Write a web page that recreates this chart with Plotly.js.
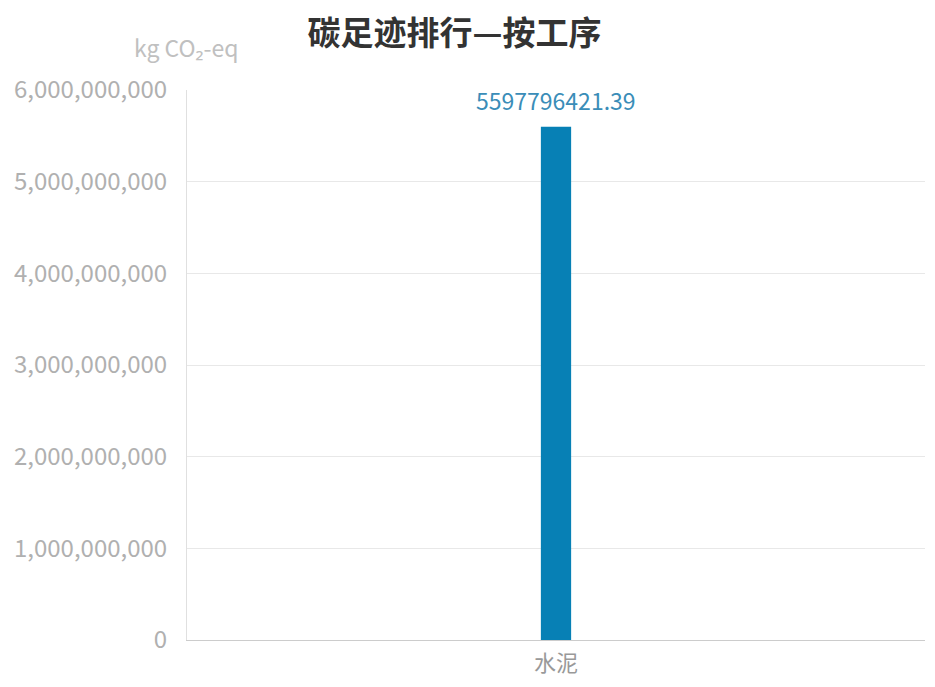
<!DOCTYPE html>
<html><head><meta charset="utf-8">
<script src="https://cdn.plot.ly/plotly-3.0.1.min.js"></script>
<style>html,body{margin:0;padding:0;background:#fff}#chart{width:935px;height:687px}</style>
</head><body><div id="chart"></div>
<script>
const categories = ["水泥"];
const emissions = [5597796421.39];
const yTickVals = [0, 1000000000, 2000000000, 3000000000, 4000000000, 5000000000, 6000000000];
const yTickText = ["0", "1,000,000,000", "2,000,000,000", "3,000,000,000", "4,000,000,000", "5,000,000,000", "6,000,000,000"];
const FONT = "'Noto Sans CJK SC', 'Noto Sans', sans-serif";

const trace = {
  type: 'bar',
  x: categories,
  y: emissions,
  width: 0.041,
  marker: {color: '#0780b5'},
  hoverinfo: 'x+y'
};

const labelAnnotations = categories.map((c, i) => ({
  x: c, y: emissions[i], xref: 'x', yref: 'y',
  text: emissions[i].toFixed(2), showarrow: false,
  xanchor: 'center', yanchor: 'bottom', yshift: 8,
  font: {family: FONT, size: 23, color: '#3a8db8'}
}));

const layout = {
  width: 935, height: 687,
  margin: {l: 187, r: 10, t: 90, b: 47},
  paper_bgcolor: '#fff', plot_bgcolor: '#fff',
  showlegend: false,
  title: {text: '碳足迹排行—按工序', x: 0.486, xanchor: 'center', y: 0.951, yanchor: 'middle',
          font: {family: FONT, size: 33, color: '#333', weight: 'bold'}},
  xaxis: {
    type: 'category', range: [-0.5, 0.5],
    showline: true, linecolor: '#ccc', linewidth: 1,
    ticks: '', showgrid: false, ticklabelstandoff: 4,
    tickfont: {family: FONT, size: 22, color: '#999'}
  },
  yaxis: {
    range: [0, 6000000000],
    tickvals: yTickVals, ticktext: yTickText,
    showline: true, linecolor: '#e0e0e0', linewidth: 1,
    gridcolor: '#e8e8e8', zeroline: false,
    ticks: '', ticklabelstandoff: 14,
    tickfont: {family: FONT, size: 24, color: '#b0b0b0'}
  },
  annotations: labelAnnotations.concat([{
    text: 'kg CO₂-eq', xref: 'paper', yref: 'paper', x: -0.001, y: 1.078,
    xanchor: 'center', yanchor: 'middle', showarrow: false,
    font: {family: FONT, size: 23, color: '#c0c0c0'}
  }])
};

Plotly.newPlot('chart', [trace], layout, {displayModeBar: false, staticPlot: true});
</script></body></html>
